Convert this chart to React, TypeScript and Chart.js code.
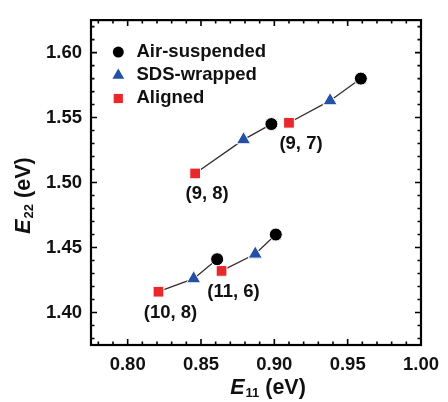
import React, { useEffect, useRef } from "react";
import { Chart, registerables } from "chart.js";

Chart.register(...registerables);

// ---- Data ----
const chiralities = ["(9, 8)", "(9, 7)", "(10, 8)", "(11, 6)"];
const airE11 = [0.898, 0.959, 0.861, 0.901];
const airE22 = [1.545, 1.58, 1.441, 1.46];
const sdsE11 = [0.879, 0.938, 0.845, 0.887];
const sdsE22 = [1.533, 1.563, 1.426, 1.445];
const alignedE11 = [0.846, 0.91, 0.821, 0.864];
const alignedE22 = [1.507, 1.546, 1.416, 1.432];
const seriesNames = ["Air-suspended", "SDS-wrapped", "Aligned"];
const xTicks = [0.8, 0.85, 0.9, 0.95, 1.0];
const yTicks = [1.4, 1.45, 1.5, 1.55, 1.6];
const xRange = [0.775, 1.0];
const yRange = [1.375, 1.625];
const minorStep = 0.01;

const FONT = "'Liberation Sans', Arial, Helvetica, sans-serif";
const BLACK = "#000000";
const BLUE = "#2450a6";
const RED = "#e8282b";
const LINE = "#3a2a2a";

function drawMarker(ctx: CanvasRenderingContext2D, style: string, x: number, y: number, s: number, color: string) {
  ctx.save();
  ctx.fillStyle = color;
  ctx.beginPath();
  if (style === "circle") {
    ctx.arc(x, y, s, 0, Math.PI * 2);
  } else if (style === "triangle") {
    const h = s * 1.5;
    const w = s * Math.sqrt(3);
    ctx.moveTo(x, y - s);
    ctx.lineTo(x + w / 2, y - s + h);
    ctx.lineTo(x - w / 2, y - s + h);
    ctx.closePath();
  } else {
    ctx.rect(x - s, y - s, 2 * s, 2 * s);
  }
  ctx.fill();
  ctx.restore();
}

const framePlugin = {
  id: "frameTicks",
  afterDatasetsDraw(chart: any) {
    const { ctx, chartArea: a, scales } = chart;
    const xs = scales.x;
    const ys = scales.y;
    ctx.save();
    ctx.strokeStyle = "#000";
    ctx.lineWidth = 1.6;
    ctx.lineCap = "butt";
    const nX = Math.round((xRange[1] - xRange[0]) / minorStep);
    for (let i = 0; i <= nX; i++) {
      const v = Math.round((0.78 + i * minorStep) * 1000) / 1000;
      if (v > xRange[1] + 1e-9) break;
      const major = Math.abs(v * 20 - Math.round(v * 20)) < 1e-6;
      const len = major ? 6 : 3.5;
      const px = xs.getPixelForValue(v);
      ctx.beginPath();
      ctx.moveTo(px, a.bottom);
      ctx.lineTo(px, a.bottom - len);
      ctx.moveTo(px, a.top);
      ctx.lineTo(px, a.top + len);
      ctx.stroke();
    }
    const nY = Math.round((yRange[1] - yRange[0]) / minorStep);
    for (let i = 0; i <= nY; i++) {
      const v = Math.round((1.38 + i * minorStep) * 1000) / 1000;
      if (v > yRange[1] + 1e-9) break;
      const major = Math.abs(v * 20 - Math.round(v * 20)) < 1e-6;
      const len = major ? 6 : 3.5;
      const py = ys.getPixelForValue(v);
      ctx.beginPath();
      ctx.moveTo(a.left, py);
      ctx.lineTo(a.left + len, py);
      ctx.moveTo(a.right, py);
      ctx.lineTo(a.right - len, py);
      ctx.stroke();
    }
    ctx.lineWidth = 2.2;
    ctx.strokeRect(a.left, a.top, a.right - a.left, a.bottom - a.top);
    ctx.restore();
  },
};

const annotationPlugin = {
  id: "annotations",
  afterDraw(chart: any) {
    const { ctx, chartArea: a, scales } = chart;
    ctx.save();
    ctx.fillStyle = "#111";
    // chirality labels under the aligned points
    ctx.font = `bold 18.5px ${FONT}`;
    ctx.textAlign = "center";
    ctx.textBaseline = "alphabetic";
    chiralities.forEach((lab, i) => {
      const px = scales.x.getPixelForValue(alignedE11[i]);
      const py = scales.y.getPixelForValue(alignedE22[i]);
      ctx.fillText(lab, px + 12, py + 26);
    });

    // legend
    const styles = ["circle", "triangle", "rect"];
    const colors = [BLACK, BLUE, RED];
    const sizes = [5.5, 6.8, 4.6];
    ctx.textAlign = "left";
    seriesNames.forEach((name, i) => {
      const base = a.top + 36.5 + i * 23.2;
      drawMarker(ctx, styles[i], a.left + 27.3, base - 4.5, sizes[i], colors[i]);
      ctx.fillStyle = "#111";
      ctx.fillText(name, a.left + 45.5, base);
    });

    // axis titles
    const drawTitle = (cx: number, cy: number) => {
      const big = `bold 21.5px ${FONT}`;
      const bigI = `italic bold 21.5px ${FONT}`;
      const small = `bold 13px ${FONT}`;
      return (sub: string) => {
        ctx.font = bigI;
        const wE = ctx.measureText("E").width;
        ctx.font = small;
        const wS = ctx.measureText(sub).width;
        ctx.font = big;
        const wR = ctx.measureText(" (eV)").width;
        const total = wE + 1 + wS + wR;
        let x = cx - total / 2;
        ctx.textAlign = "left";
        ctx.font = bigI;
        ctx.fillText("E", x, cy);
        x += wE + 1;
        ctx.font = small;
        ctx.fillText(sub, x, cy + 3);
        x += wS;
        ctx.font = big;
        ctx.fillText(" (eV)", x, cy);
      };
    };
    ctx.fillStyle = "#111";
    drawTitle((a.left + a.right) / 2 + 12, 394)("11");
    ctx.save();
    ctx.translate(30, (a.top + a.bottom) / 2 + 13);
    ctx.rotate(-Math.PI / 2);
    drawTitle(0, 0)("22");
    ctx.restore();
    ctx.restore();
  },
};

export default function App() {
  const ref = useRef<HTMLCanvasElement | null>(null);
  useEffect(() => {
    if (!ref.current) return;
    const pts = (xs: number[], ys: number[]) => xs.map((x, i) => ({ x, y: ys[i] }));
    const lineSets = chiralities.map((c, i) => ({
      label: "line " + c,
      data: [
        { x: alignedE11[i], y: alignedE22[i] },
        { x: sdsE11[i], y: sdsE22[i] },
        { x: airE11[i], y: airE22[i] },
      ],
      showLine: true,
      borderColor: LINE,
      borderWidth: 1.3,
      pointRadius: 0,
      order: 5,
    }));
    const tickFont = { family: FONT, size: 18.5, weight: "bold" as const };
    const chart = new Chart(ref.current, {
      type: "scatter",
      data: {
        datasets: [
          ...lineSets,
          {
            label: seriesNames[0],
            data: pts(airE11, airE22),
            pointStyle: "circle",
            pointRadius: 6.5,
            backgroundColor: BLACK,
            borderColor: "#ffffff",
            borderWidth: 1,
            order: 1,
          },
          {
            label: seriesNames[1],
            data: pts(sdsE11, sdsE22),
            pointStyle: "triangle",
            pointRadius: 8.2,
            backgroundColor: BLUE,
            borderColor: "#ffffff",
            borderWidth: 1,
            order: 1,
          },
          {
            label: seriesNames[2],
            data: pts(alignedE11, alignedE22),
            pointStyle: "rect",
            pointRadius: 7.6,
            backgroundColor: RED,
            borderColor: "#ffffff",
            borderWidth: 1,
            order: 1,
          },
        ] as any,
      },
      options: {
        animation: false,
        responsive: false,
        events: [],
        layout: { padding: { top: 13, right: 21, left: 0, bottom: 0 } },
        plugins: { legend: { display: false }, tooltip: { enabled: false } },
        scales: {
          x: {
            type: "linear",
            min: xRange[0],
            max: xRange[1],
            afterBuildTicks: (s: any) => {
              s.ticks = xTicks.map((v) => ({ value: v }));
            },
            afterFit: (s: any) => {
              s.height = 57;
            },
            grid: { display: false, drawTicks: false },
            border: { display: false },
            ticks: {
              font: tickFont,
              color: "#111",
              padding: 9,
              maxRotation: 0,
              autoSkip: false,
              callback: (v: any) => Number(v).toFixed(2),
            },
          },
          y: {
            type: "linear",
            min: yRange[0],
            max: yRange[1],
            afterBuildTicks: (s: any) => {
              s.ticks = yTicks.map((v) => ({ value: v }));
            },
            afterFit: (s: any) => {
              s.width = 91;
            },
            grid: { display: false, drawTicks: false },
            border: { display: false },
            ticks: {
              font: tickFont,
              color: "#111",
              padding: 9,
              autoSkip: false,
              callback: (v: any) => Number(v).toFixed(2),
            },
          },
        },
      },
      plugins: [framePlugin, annotationPlugin],
    });
    return () => chart.destroy();
  }, []);
  return (
    <div style={{ position: "absolute", left: 0, top: 0, width: 448, height: 402, background: "#fff" }}>
      <canvas ref={ref} width={448} height={402} style={{ display: "block" }} />
    </div>
  );
}
